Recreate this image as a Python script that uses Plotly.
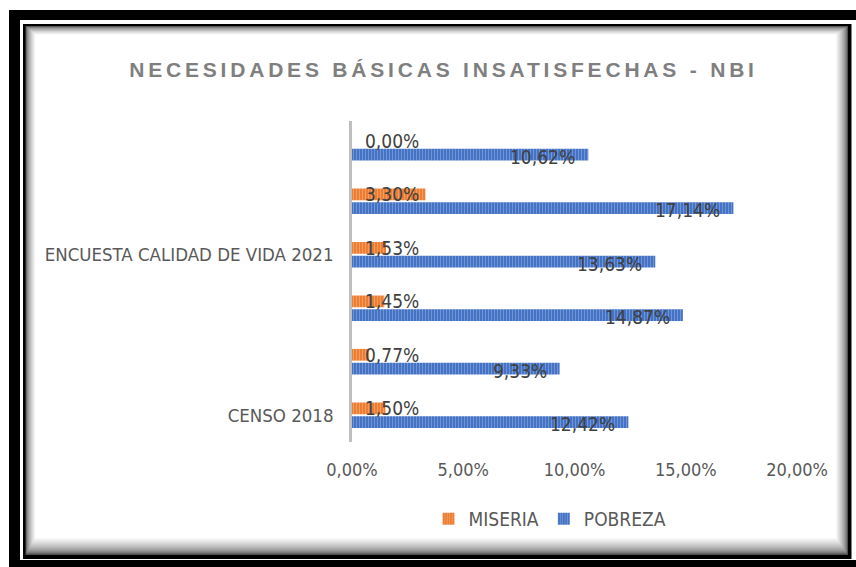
import plotly.graph_objects as go

# ---- data ----
row_index = [0, 1, 2, 3, 4, 5]                      # bottom -> top
miseria = [1.50, 0.77, 1.45, 1.53, 3.30, 0.00]
pobreza = [12.42, 9.33, 14.87, 13.63, 17.14, 10.62]
group_label_rows = [0, 3]
group_labels = ["CENSO 2018", "ENCUESTA CALIDAD DE VIDA 2021"]
x_ticks = [0, 5, 10, 15, 20]
x_tick_labels = ["0,00%", "5,00%", "10,00%", "15,00%", "20,00%"]

W, H = 856, 567
PL, PR, PT, PB = 352, 797, 121, 442   # plot area in pixels

def fx(px):
    return (px - PL) / (PR - PL)

def fy(py):
    return (PB - py) / (PB - PT)

NARROW = "DejaVu Sans Condensed, DejaVu Sans, sans-serif"

def pct(v):
    return f"{v:.2f}".replace(".", ",") + "%"

fig = go.Figure()
fig.add_trace(go.Bar(
    y=row_index, x=pobreza, orientation="h", name="POBREZA",
    legendrank=2,
    marker=dict(color="#4472C4", line=dict(width=0),
                pattern=dict(shape="|", fgcolor="#9db5e3", size=3, solidity=0.35,
                             fillmode="overlay")),
    hoverinfo="skip",
))
fig.add_trace(go.Bar(
    y=row_index, x=miseria, orientation="h", name="MISERIA",
    legendrank=1,
    marker=dict(color="#ED7D31", line=dict(width=0),
                pattern=dict(shape="|", fgcolor="#f7be98", size=3, solidity=0.35,
                             fillmode="overlay")),
    hoverinfo="skip",
))

annotations = []
for r, v in zip(row_index, pobreza):
    annotations.append(dict(x=v, y=r, xref="x", yref="y", text=pct(v), showarrow=False,
                            xanchor="right", yanchor="middle", xshift=-11, yshift=-9,
                            font=dict(family=NARROW, size=19, color="#404040")))
for r, v in zip(row_index, miseria):
    annotations.append(dict(x=0, y=r, xref="x", yref="y", text=pct(v), showarrow=False,
                            xanchor="left", yanchor="middle", xshift=11, yshift=7,
                            font=dict(family=NARROW, size=19, color="#404040")))

# ---- frame (double border with inner shadow) ----
shapes = []
def rect(x0, y0, x1, y1, color):
    shapes.append(dict(type="rect", xref="paper", yref="paper",
                       x0=fx(x0), x1=fx(x1), y0=fy(y1), y1=fy(y0),
                       fillcolor=color, line=dict(width=0), layer="below"))

rect(9, 10, 900, 620, "#000000")
rect(20, 20, 900, 560, "#ffffff")
rect(23, 24, 851.5, 559, "#000000")
steps = 12
for k in range(steps + 1):
    t = k / steps
    g = int(80 + (255 - 80) * (t ** 0.6))
    col = f"rgb({g},{g},{g})"
    rect(25.5 + 0.8 * k, 26 + 0.7 * k, 848 - 1.0 * k, 555 - 1.4 * k, col)

fig.update_layout(
    width=W, height=H,
    margin=dict(l=PL, r=W - PR, t=PT, b=H - PB, autoexpand=False),
    paper_bgcolor="#ffffff", plot_bgcolor="rgba(0,0,0,0)",
    barmode="group", bargap=0.477, bargroupgap=0.16,
    title=dict(text="NECESIDADES BÁSICAS INSATISFECHAS - NBI",
               x=443.5 / W, xanchor="center", xref="container",
               y=1 - 70 / H, yanchor="middle", yref="container",
               font=dict(family="Liberation Sans, Arial, sans-serif", size=21,
                         color="#7f7f7f", weight="bold")),
    xaxis=dict(range=[0, 20], tickvals=x_ticks, ticktext=x_tick_labels,
               showgrid=False, zeroline=False, showline=False,
               ticks="outside", ticklen=11, tickcolor="rgba(0,0,0,0)",
               tickfont=dict(family=NARROW, size=18, color="#595959"),
               fixedrange=True),
    yaxis=dict(range=[-0.5, 5.5], tickvals=group_label_rows, ticktext=group_labels,
               showgrid=False, zeroline=False, showline=True,
               linecolor="#bfbfbf", linewidth=2.5,
               ticks="outside", ticklen=12, tickcolor="rgba(0,0,0,0)",
               tickfont=dict(family=NARROW, size=18.5, color="#595959"),
               fixedrange=True),
    legend=dict(orientation="h", x=fx(550), xanchor="center",
                y=fy(519), yanchor="middle",
                font=dict(family=NARROW, size=19, color="#595959"),
                bgcolor="rgba(0,0,0,0)", itemwidth=30),
    annotations=annotations,
    shapes=shapes,
    showlegend=True,
)

post = """
document.body.style.margin = '0';
document.body.style.overflow = 'hidden';
document.querySelectorAll('.gtitle').forEach(function(e){ e.style.letterSpacing = '3.8px'; });
"""
fig.write_html("out.html", post_script=post, config={"displayModeBar": False})
